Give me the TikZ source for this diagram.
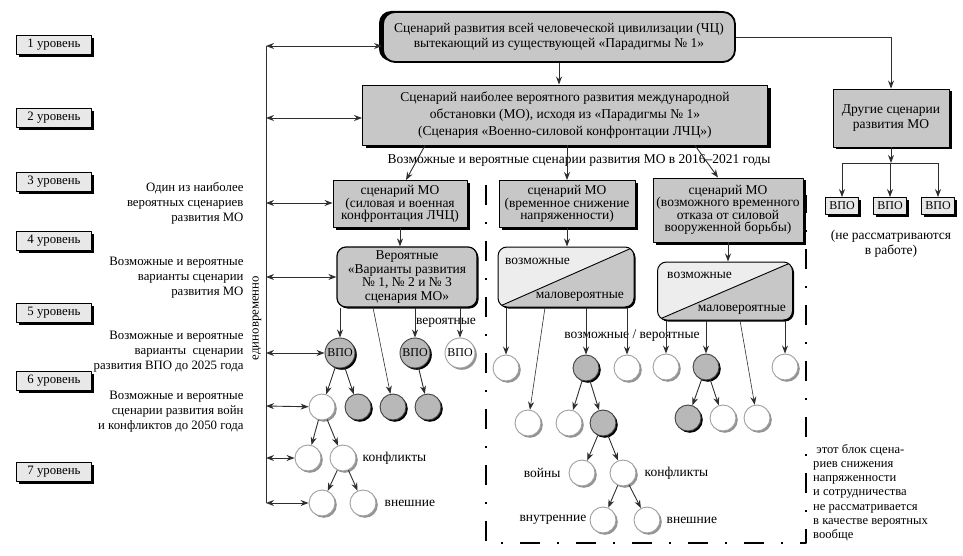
\documentclass[tikz,border=0pt]{standalone}
\usepackage{fontspec}
\setmainfont{Liberation Serif}
\usetikzlibrary{arrows.meta,shadows,positioning}
\definecolor{boxgray}{gray}{0.78}
\definecolor{lvlgray}{gray}{0.91}
\definecolor{lightpart}{gray}{0.93}
\definecolor{circgray}{gray}{0.72}
\definecolor{linegray}{gray}{0.18}
\tikzset{
  shd/.style={drop shadow={shadow xshift=#1, shadow yshift=-#1, opacity=1, fill=black}},
  lvlbox/.style={draw=black, fill=lvlgray, minimum width=75pt, minimum height=19pt, inner sep=0pt, shd=2.5pt, font=\fontsize{12.8}{14}\selectfont},
  topbox/.style={draw=black, line width=1.8pt, rounded corners=12pt, fill=boxgray, minimum width=352pt, minimum height=50pt, align=center, inner sep=0pt,
    drop shadow={shadow xshift=-4pt, shadow yshift=1pt, opacity=1, fill=black}, font=\fontsize{13.5}{15}\selectfont},
  mobox/.style={draw=black, line width=0.9pt, fill=boxgray, minimum width=405pt, minimum height=60pt, align=center, inner sep=0pt, shd=3pt, font=\fontsize{13.5}{17}\selectfont},
  scenbox/.style={draw=black, line width=0.9pt, fill=boxgray, align=center, inner sep=0pt, shd=2.5pt, font=\fontsize{13.5}{12.5}\selectfont},
  vpobox/.style={draw=black, line width=0.8pt, fill=lvlgray, minimum width=33pt, minimum height=17pt, inner sep=0pt, shd=2.5pt, font=\fontsize{12}{12}\selectfont},
  rbox/.style={draw=black, line width=1.2pt, rounded corners=9pt, fill=boxgray, minimum width=140pt, minimum height=60pt, align=center, inner sep=0pt, shd=1.5pt, font=\fontsize{13.5}{13.5}\selectfont},
  splitbox/.style={draw=black, line width=1pt, rounded corners=9pt, fill=boxgray, minimum width=136pt, minimum height=60pt, shd=1.5pt,
    path picture={\fill[lightpart, sharp corners] (path picture bounding box.south west) -- (path picture bounding box.north west) -- (path picture bounding box.north east) -- cycle;
      \draw[line width=0.9pt, sharp corners] (path picture bounding box.south west) -- (path picture bounding box.north east);}},
  circ/.style={circle, line width=0.9pt, minimum size=26pt, inner sep=0pt},
  cw/.style={circ, draw=gray!75, fill=white, drop shadow={shadow xshift=1.8pt, shadow yshift=-1.8pt, opacity=1, fill=gray!85}},
  cg/.style={circ, draw=gray!50!black, fill=circgray, drop shadow={shadow xshift=1.8pt, shadow yshift=-1.8pt, opacity=1, fill=black}},
  vpo/.style={minimum size=30pt, font=\fontsize{12}{12}\selectfont},
  desc/.style={anchor=east, align=right, font=\fontsize{12.8}{15}\selectfont},
  lbl/.style={inner sep=0pt, font=\fontsize{13.5}{15}\selectfont},
  arr/.style={draw=linegray, line width=0.9pt, -{Stealth[length=8pt,width=6pt]}},
  tarr/.style={draw=linegray, line width=0.6pt, -{Stealth[length=8pt,width=6pt]}},
  dbl/.style={draw=linegray, line width=0.9pt, {Stealth[length=8pt,width=6pt]}-{Stealth[length=8pt,width=6pt]}},
  sep/.style={draw=black, line width=1.3pt, dash pattern=on 20pt off 17pt on 2pt off 17pt}
}
\begin{document}
\begin{tikzpicture}[x=1pt, y=-1pt, font=\fontsize{13.5}{15}\selectfont, line join=round]
\useasboundingbox (0,0) rectangle (963,556);
% levels
\foreach \n/\y in {1/45, 2/118, 3/182, 4/241, 5/313, 6/381, 7/472}
  \node[lvlbox] (L\n) at (54,\y) {\n\ уровень};
\node[desc] (d3) at (247,203) {Один из наиболее\\вероятных сценариев\\развития МО};
\node[desc] (d4) at (247,278) {Возможные и вероятные\\варианты сценарии\\развития МО};
\node[desc] (d5) at (247,352) {Возможные и вероятные\\варианты\ \ сценарии\\развития ВПО до 2025 года};
\node[desc] (d6) at (247,412) {Возможные и вероятные\\сценарии развития войн\\и конфликтов до 2050 года};
\node[rotate=90, font=\fontsize{12.8}{15}\selectfont] (once) at (257,318) {единовременно};

% upper boxes
\node[topbox] (top) at (559,37) {Сценарий развития всей человеческой цивилизации (ЧЦ)\\вытекающий из существующей «Парадигмы № 1»};
\node[mobox] (mo) at (565,115) {Сценарий наиболее вероятного развития международной\\обстановки (МО), исходя из «Парадигмы № 1»\\(Сценария «Военно-силовой конфронтации ЛЧЦ»)};
\node[scenbox, minimum width=116pt, minimum height=58pt, font=\fontsize{13.5}{15}\selectfont] (other) at (891,118) {Другие сценарии\\развития МО};
\coordinate (bar) at (891,163);
\foreach \i/\x in {1/842, 2/890, 3/938}
  \node[vpobox] (b\i) at (\x,206) {ВПО};
\node[align=center] (skip) at (891,244) {(не рассматриваются\\в работе)};
\node (cap) at (579,160) {Возможные и вероятные сценарии развития МО в 2016–2021 годы};

\node[scenbox, minimum width=134pt, minimum height=47pt] (s1) at (400,204) {сценарий МО\\(силовая и военная\\конфронтация ЛЧЦ)};
\node[scenbox, minimum width=136pt, minimum height=47pt] (s2) at (567,204) {сценарий МО\\(временное снижение\\напряженности)};
\node[scenbox, minimum width=150pt, minimum height=64pt] (s3) at (728,210) {сценарий МО\\(возможного временного\\отказа от силовой\\вооруженной борьбы)};

\node[rbox] (r1) at (407,277) {Вероятные\\«Варианты развития\\№ 1, № 2 и № 3\\сценария МО»};
\node[splitbox] (sp2) at (566,277) {};
\node[splitbox, minimum width=135pt, minimum height=58pt] (sp3) at (725,291) {};
\node[lbl, anchor=west] at (505,261) {возможные};
\node[lbl, anchor=east] at (624,297) {маловероятные};
\node[lbl, anchor=west] at (667,275) {возможные};
\node[lbl, anchor=east] at (786,310) {маловероятные};

% separators
\draw[sep] (486,185) -- (486,543) -- (806,543) -- (806,195);
\node[lbl, anchor=north west, align=left, font=\fontsize{12.6}{14.2}\selectfont] (note) at (813,444) {\ этот блок сцена-\\риев снижения\\напряженности\\и сотрудничества\\не рассматривается\\в качестве вероятных\\вообще};

% left tree
\node[cg, vpo] (v1) at (340,353) {ВПО};
\node[cg, vpo] (v2) at (415,353) {ВПО};
\node[cw, vpo] (v3) at (460,353) {ВПО};
\node[lbl] (prob) at (446,323) {вероятные};
\node[cw] (c61) at (322,407) {};
\node[cg] (c62) at (358,407) {};
\node[cg] (c63) at (393,407) {};
\node[cg] (c64) at (428,407) {};
\node[cw] (c71) at (308,458) {};
\node[cw] (c72) at (343,458) {};
\node[cw] (c81) at (322,503) {};
\node[cw] (c82) at (363,503) {};
\node[lbl, right=6pt of c72] {конфликты};
\node[lbl, right=8pt of c82] {внешние};

% middle tree
\node[cw] (m51) at (506,368) {};
\node[cg] (m52) at (586,368) {};
\node[cw] (m53) at (627,368) {};
\node[cw] (m61) at (528,423) {};
\node[cw] (m62) at (569,423) {};
\node[cg] (m63) at (603,423) {};
\node[cw] (m71) at (582,473) {};
\node[cw] (m72) at (623,473) {};
\node[cw] (m81) at (603,520) {};
\node[cw] (m82) at (647,520) {};
\node[lbl, left=8pt of m71] {войны};
\node[lbl, right=8pt of m72] {конфликты};
\node[lbl, left=3pt of m81] {внутренние};
\node[lbl, right=6pt of m82] {внешние};
\node[lbl] (both) at (632,335) {возможные / вероятные};

% right tree
\node[cw] (q51) at (666,367) {};
\node[cg] (q52) at (706,367) {};
\node[cw] (q53) at (785,367) {};
\node[cg] (q61) at (688,418) {};
\node[cw] (q62) at (723,418) {};
\node[cw] (q63) at (757,418) {};

% common line
\foreach \k/\y in {1/46, 2/118, 3/203, 4/277, 5/353, 6/406, 7/458, 8/503}
  \coordinate (e\k) at (266,\y);
\draw[draw=linegray, line width=0.9pt] (e1) -- (e8);
\draw[dbl] (e1) -- (e1 -| top.west);
\draw[dbl] (e2) -- (e2 -| mo.west);
\draw[dbl] (e3) -- (e3 -| s1.west);
\draw[dbl] (e4) -- (e4 -| r1.west);
\draw[dbl] (e5) -- (v1);
\draw[dbl] (e6) -- (c61);
\draw[dbl] (e7) -- (c71);
\draw[dbl] (e8) -- (c81);

% upper connectors
\draw[arr] (top.south) -- (top.south |- mo.north);
\draw[arr] (top.east) -| (other.north);
\draw[arr] (other.south) -- (bar);
\draw[draw=linegray, line width=0.9pt] (b1 |- bar) -- (b3 |- bar);
\foreach \i in {1,2,3}
  \draw[arr] (b\i |- bar) -- (b\i.north);
\draw[arr] ([xshift=-140pt]mo.south) -- ([xshift=6pt]s1.north);
\draw[arr] (mo.south -| s2) -- (s2.north);
\draw[arr] ([xshift=130pt]mo.south) -- ([xshift=-10pt]s3.north);
\draw[arr] (s1.south) -- (s1.south |- r1.north);
\draw[arr] (s2.south) -- (s2.south |- sp2.north);
\draw[arr] (s3.south) -- (s3.south |- sp3.north);

% left tree connectors
\draw[arr] (r1.south -| v1) -- (v1);
\draw[arr] (r1.south -| v2) -- (v2);
\draw[tarr] (r1.south -| v3) -- (v3);
\draw[tarr] ([xshift=-34pt]r1.south) -- (c63);
\draw[arr] (v1) -- (c61);
\draw[arr] (v1) -- (c62);
\draw[arr] (v2) -- (c64);
\draw[arr] (c61) -- (c71);
\draw[arr] (c61) -- (c72);
\draw[arr] (c72) -- (c81);
\draw[arr] (c72) -- (c82);

% middle tree connectors
\draw[arr] (sp2.south -| m51) -- (m51);
\draw[tarr] ([xshift=-21pt]sp2.south) -- (m61);
\draw[arr] (sp2.south -| m52) -- (m52);
\draw[arr] (sp2.south -| m53) -- (m53);
\draw[arr] (m52) -- (m62);
\draw[arr] (m52) -- (m63);
\draw[arr] (m63) -- (m71);
\draw[arr] (m63) -- (m72);
\draw[arr] (m72) -- (m81);
\draw[arr] (m72) -- (m82);

% right tree connectors
\draw[arr] (sp3.south -| q51) -- (q51);
\draw[arr] (sp3.south -| q52) -- (q52);
\draw[tarr] ([xshift=15pt]sp3.south) -- (q63);
\draw[arr] (sp3.south -| q53) -- (q53);
\draw[arr] (q52) -- (q61);
\draw[arr] (q52) -- (q62);
\end{tikzpicture}
\end{document}
